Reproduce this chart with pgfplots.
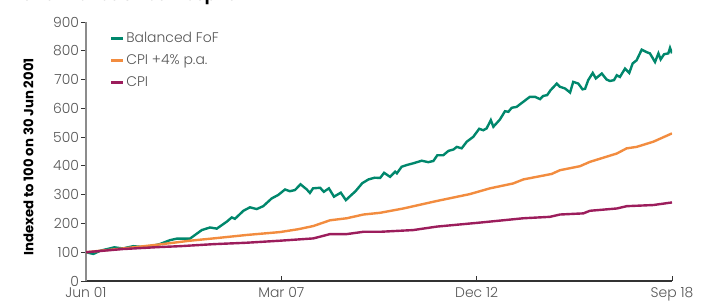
\documentclass[border=0pt]{standalone}
\usepackage{fontspec}
\setmainfont{Poppins}[UprightFont=* Light, BoldFont=* Bold]
\usepackage{pgfplots}
\pgfplotsset{compat=1.18}
\definecolor{fofgreen}{HTML}{00876C}
\definecolor{cpiorange}{HTML}{F28C3F}
\definecolor{cpipurple}{HTML}{9C1D5C}
\definecolor{txtgray}{HTML}{555555}
\definecolor{axgray}{HTML}{8C8C8C}
\begin{document}
\begin{tikzpicture}
\begin{axis}[
  name=main, at={(0,0)}, anchor=south west,
  scale only axis, width=586bp, height=259bp,
  xmin=0, xmax=207, ymin=0, ymax=900,
  axis lines*=left,
  x axis line style={draw=black!80, line width=1.3bp},
  y axis line style={draw=axgray, line width=2.2bp},
  xtick={0,69,138,207},
  xticklabels={Jun 01,Mar 07,Dec 12,Sep 18},
  ytick={0,100,...,900},
  tick align=inside,
  major tick length=5bp,
  xtick style={draw=black!80, line width=0.8bp},
  ytick style={draw=black!80, line width=0.8bp, xshift=-5bp},
  /pgf/number format/assume math mode=true,
  tick label style={text=txtgray, font=\fontsize{14}{16}\selectfont},
  yticklabel style={xshift=-3.5bp},
  xticklabel style={yshift=-3bp},
  legend cell align=left,
  legend style={draw=none, fill=none, at={(0.035,0.975)}, anchor=north west,
    font=\fontsize{14}{16}\selectfont, text=txtgray, row sep=6.5bp},
  legend image code/.code={\draw[#1, line width=2.6bp] (0bp,0bp) -- (12bp,0bp);},
]
\addplot[fofgreen, line width=2.4bp] coordinates {
(0,100) (2.6,94) (5,105) (10,117) (13,113) (16.7,121) (21.4,117) (26,128) (29.7,142) (32,147) (36.7,147) (40.9,177) (43.8,186) (46.2,182) (49.7,206) (51.5,221) (52.6,216) (55.6,244) (57.9,256) (60.3,250) (62.6,260) (65.6,287) (67.9,299) (70.3,318) (72,312) (73.8,316) (75.8,336) (78,318) (79.1,306) (80.2,322) (82.7,324) (84,310) (85.8,322) (87.6,293) (90,307) (91.8,281) (93.3,295) (95.2,312) (97.6,340) (99.8,353) (102,359) (103.9,358) (105.3,376) (107.4,362) (109.2,380) (109.8,374) (111.5,397) (113.3,403) (115.6,409) (118.6,418) (120.9,413) (122.7,417) (124.1,437) (126.2,437) (128,452) (129.8,457) (131,466) (132.7,461) (134.5,484) (136.8,501) (138.9,529) (140.3,524) (141.5,530) (143,559) (143.9,536) (146.2,561) (148,590) (149.2,588) (150.4,602) (152.1,605) (154.5,623) (156.8,640) (158.6,640) (160.4,632) (161.5,643) (162.9,646) (164.1,663) (166.3,686) (167.4,675) (169.2,669) (171,655) (172.1,692) (173.9,686) (175.4,666) (176.3,668) (177.4,698) (179,723) (180.1,704) (182.2,721) (183.9,700) (185.1,695) (186.5,698) (187.5,715) (188.6,709) (190.4,738) (191.9,723) (193.1,756) (194.5,767) (196.3,804) (198.1,795) (199.2,791) (201,761) (202.2,791) (203,770) (204.2,788) (205.7,791) (206.3,810) (207,791)
};
\addlegendentry{Balanced FoF}
\addplot[cpiorange, line width=2.4bp] coordinates {
(0,100) (13,113) (26,127) (36.7,140) (45,148) (56.8,160) (68.5,170) (75,180) (80.3,191) (86.2,211) (92.1,218) (98,231) (103.9,237) (112.1,252) (123.9,278) (135.6,302) (142.7,322) (150.9,339) (154.5,353) (164.5,372) (167.4,385) (174.5,399) (178,414) (187.5,443) (191,461) (194.5,466) (200.4,484) (207,513)
};
\addlegendentry{CPI +4\% p.a.}
\addplot[cpipurple, line width=2.4bp] coordinates {
(0,100) (13,111) (26,118) (33.2,121) (45,128) (56.8,133) (68.5,140) (80.3,148) (86.2,163) (92.1,163) (98,171) (103.9,171) (115.6,177) (123.9,189) (139.2,203) (154.5,218) (163.9,223) (167.4,231) (175.7,235) (178,244) (187.5,252) (191,260) (200.4,264) (207,273)
};
\addlegendentry{CPI}
\end{axis}
\node[rotate=90, font=\bfseries\fontsize{13.3}{15}\selectfont, anchor=center]
  at ([shift={(-57.5bp,124bp)}]main.south west) {Indexed to 100 on 30 Jun 2001};
\node[font=\bfseries\fontsize{16}{18}\selectfont, anchor=base west, inner sep=0pt]
  at ([shift={(-74bp,280.5bp)}]main.south west) {Performance since inception};
\pgfresetboundingbox
\path[use as bounding box] ([shift={(-86bp,-22bp)}]main.south west) rectangle ([shift={(627bp,281bp)}]main.south west);
\end{tikzpicture}
\end{document}
